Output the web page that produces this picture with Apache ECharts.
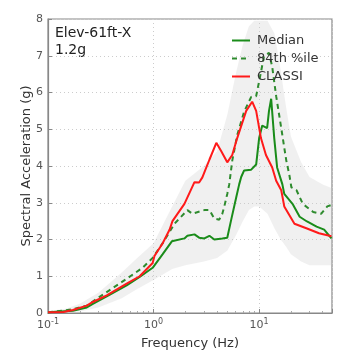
<!DOCTYPE html>
<html><head><meta charset="utf-8">
<script src="https://cdn.jsdelivr.net/npm/echarts/dist/echarts.min.js"></script>
<style>html,body{margin:0;padding:0;background:#fff}#c{width:337px;height:355px}</style>
</head><body><div id="c"></div>
<script>
// ---- data ----
const classiFreq = [0.1,0.14,0.172,0.233,0.266,0.36,0.556,0.738,0.98,1.02,1.22,1.42,1.51,1.96,2.44,2.7,2.9,3.1,3.38,3.93,4.38,4.99,5.21,5.56,6.2,7.54,8.59,9.37,10.4,11.6,13.3,14.5,16.2,17.3,21.6,28.4,36.9,48.4];
const classiVal  = [0.02,0.03,0.08,0.2,0.3,0.48,0.8,1.0,1.36,1.55,1.9,2.27,2.5,2.97,3.56,3.55,3.69,3.9,4.17,4.63,4.4,4.1,4.1,4.3,4.76,5.5,5.75,5.5,4.76,4.3,3.96,3.6,3.34,2.9,2.43,2.3,2.17,2.09];

const medianFreq = [0.1,0.172,0.233,0.266,0.36,0.556,0.738,0.98,1.22,1.49,1.51,1.96,2.09,2.44,2.7,3.03,3.38,3.76,4.48,4.99,5.44,6.07,6.47,6.76,7.21,8.41,9.37,10.0,10.7,11.9,12.4,13.0,13.9,14.8,16.6,17.3,20.7,24.2,28.4,35.0,41.3,48.4];
const medianVal  = [0.02,0.06,0.15,0.25,0.45,0.75,0.98,1.23,1.6,1.95,2.0,2.03,2.1,2.14,2.05,2.03,2.1,2.0,2.03,2.05,2.54,3.15,3.5,3.7,3.88,3.9,4.04,4.76,5.1,5.03,5.5,5.83,4.76,3.96,3.5,3.24,2.97,2.62,2.49,2.35,2.27,2.03];

const p84Freq = [0.1,0.172,0.233,0.36,0.556,0.787,0.98,1.22,1.58,2.09,2.33,3.03,3.38,3.76,4.19,4.48,4.68,4.99,5.21,5.56,6.2,7.21,8.41,9.37,10.4,11.1,12.4,13.3,14.5,16.2,17.3,18.1,19.3,20.2,22.6,25.9,32.5,38.6,44.2,48.4];
const p84Val  = [0.02,0.1,0.2,0.57,0.93,1.23,1.5,1.9,2.43,2.8,2.7,2.8,2.8,2.57,2.54,2.7,2.9,3.24,3.5,4.14,4.84,5.48,5.88,5.9,6.55,6.98,7.08,6.7,5.9,5.03,4.5,4.14,3.77,3.42,3.34,2.97,2.75,2.7,2.9,2.94];

// spread of the individual (grey) realizations
const bandFreq = [0.1,0.15,0.2,0.3,0.5,0.7,1,1.5,2,3,4,5,6,7,8,9,10,12,14,16,18,20,25,30,40,48.4];
const bandLow  = [0,0.02,0.04,0.15,0.4,0.65,0.9,1.2,1.3,1.4,1.5,1.7,2.1,2.5,2.8,2.9,2.9,2.7,2.3,2.0,1.8,1.6,1.4,1.3,1.3,1.3];
const bandHigh = [0.05,0.12,0.25,0.55,1.1,1.5,1.9,2.9,3.6,4.0,4.4,5.4,6.5,7.3,7.8,7.95,7.95,7.95,7.6,6.6,5.6,4.8,4.1,3.7,3.5,3.4];

const yTicks = [0,1,2,3,4,5,6,7,8];
const seriesNames = ['Median','84th %ile','CLASSI'];
const panelLines = ['Elev-61ft-X','1.2g'];

// ---- build ----
const zip = (a,b) => a.map((x,i) => [x,b[i]]);
const FONT = 'DejaVu Sans';
const chart = echarts.init(document.getElementById('c'), null, {renderer:'canvas'});
chart.setOption({
  animation:false,
  backgroundColor:'#fff',
  textStyle:{fontFamily:FONT},
  grid:{left:48,right:5,top:19,bottom:37,show:true,borderColor:'#888',borderWidth:1.2,backgroundColor:'#fff'},
  legend:{
    data:seriesNames, orient:'vertical', left:226, top:29,
    itemWidth:18, itemHeight:14, itemGap:5,
    itemStyle:{opacity:0},
    textStyle:{fontFamily:FONT,fontSize:13,color:'#333',padding:[0,0,0,2]}
  },
  graphic:[
    {type:'text',left:55,top:26,style:{text:panelLines[0],font:'14px "DejaVu Sans"',fill:'#222'}},
    {type:'text',left:55,top:43,style:{text:panelLines[1],font:'14px "DejaVu Sans"',fill:'#222'}}
  ],
  xAxis:{
    type:'log', logBase:10, min:0.1, max:49,
    name:'Frequency (Hz)', nameLocation:'middle', nameGap:24, nameMoveOverlap:false,
    nameTextStyle:{fontFamily:FONT,fontSize:13,color:'#333'},
    axisLine:{show:true,lineStyle:{color:'#888',width:1.2}},
    axisTick:{show:true,inside:true,length:4,lineStyle:{color:'#888'}},
    minorTick:{show:true,splitNumber:9,length:2,lineStyle:{color:'#aaa'}},
    splitLine:{show:true,lineStyle:{color:'#ccc',type:[1,3]}},
    axisLabel:{
      margin:5, color:'#555', fontSize:11,
      formatter:function(v){
        const l = Math.log10(v), e = Math.round(l);
        if (Math.abs(l-e) > 1e-6) return '';
        return '{b|10}{s|' + e + '}';
      },
      rich:{b:{fontSize:11,color:'#555',fontFamily:FONT,lineHeight:14},
            s:{fontSize:8,color:'#555',fontFamily:FONT,verticalAlign:'top',lineHeight:14}}
    }
  },
  yAxis:{
    type:'value', min:yTicks[0], max:yTicks[yTicks.length-1], interval:1,
    name:'Spectral Acceleration (g)', nameLocation:'middle', nameGap:15, nameMoveOverlap:false,
    nameTextStyle:{fontFamily:FONT,fontSize:13,color:'#333'},
    axisLine:{show:true,lineStyle:{color:'#888',width:1.2}},
    axisTick:{show:true,inside:true,length:4,lineStyle:{color:'#888'}},
    splitLine:{show:true,lineStyle:{color:'#ccc',type:[1,3]}},
    axisLabel:{margin:5,color:'#555',fontSize:11}
  },
  series:[
    {name:'band',type:'custom',silent:true,z:1,clip:true,
     data:[0],
     renderItem:function(params, api){
       const pts = [];
       for (let i=0;i<bandFreq.length;i++) pts.push(api.coord([bandFreq[i], bandHigh[i]]));
       for (let i=bandFreq.length-1;i>=0;i--) pts.push(api.coord([bandFreq[i], bandLow[i]]));
       return {type:'polygon',shape:{points:pts},style:{fill:'rgba(205,205,205,0.3)'}};
     }},
    {name:seriesNames[0],type:'line',data:zip(medianFreq,medianVal),symbol:'none',
     lineStyle:{color:'#1a8c1a',width:2},itemStyle:{color:'#1a8c1a'},z:3},
    {name:seriesNames[1],type:'line',data:zip(p84Freq,p84Val),symbol:'none',
     lineStyle:{color:'#2e8b2e',width:2,type:[5,4]},itemStyle:{color:'#2e8b2e'},z:3},
    {name:seriesNames[2],type:'line',data:zip(classiFreq,classiVal),symbol:'none',
     lineStyle:{color:'#ff1a1a',width:2},itemStyle:{color:'#ff1a1a'},z:4}
  ]
});
</script></body></html>
